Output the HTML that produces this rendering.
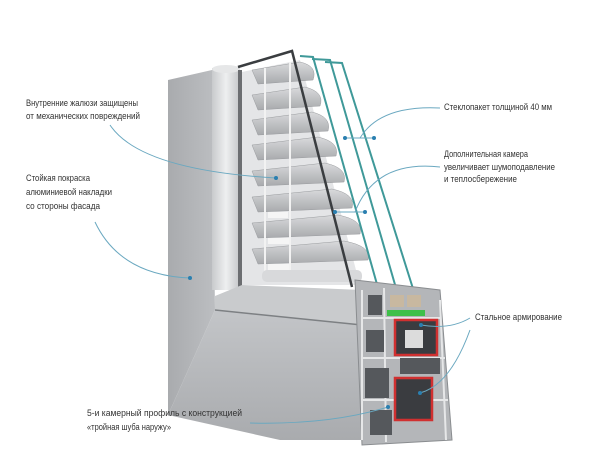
<!DOCTYPE html>
<html><head><meta charset="utf-8"><style>
html,body{margin:0;padding:0;background:#fff}
svg{display:block}
text{font-family:"Liberation Sans",sans-serif;font-size:9px;fill:#333}
</style></head><body>
<svg width="600" height="450" viewBox="0 0 600 450">
<defs>
<linearGradient id="pan" x1="0" x2="1"><stop offset="0" stop-color="#a9abae"/><stop offset="1" stop-color="#bcbec1"/></linearGradient>
<linearGradient id="bead" x1="0" x2="1"><stop offset="0" stop-color="#c8cacc"/><stop offset=".5" stop-color="#eeeff0"/><stop offset="1" stop-color="#c4c6c8"/></linearGradient>
<linearGradient id="low" x1="0" y1="0" x2="0" y2="1"><stop offset="0" stop-color="#c3c5c8"/><stop offset="1" stop-color="#a9abae"/></linearGradient>
<linearGradient id="slat" x1="0" y1="0" x2="0" y2="1"><stop offset="0" stop-color="#d9dadc"/><stop offset="1" stop-color="#a8aaad"/></linearGradient>
</defs>
<!-- left panel -->
<polygon points="168,80 212,70 215,310 168,415" fill="url(#pan)"/>
<!-- bead -->
<rect x="212" y="68" width="28" height="222" fill="url(#bead)"/>
<ellipse cx="226" cy="69" rx="14" ry="4" fill="#e6e7e8"/>
<rect x="238" y="70" width="4" height="220" fill="#6c6e71"/>
<!-- inner background -->
<polygon points="242,72 300,60 360,285 242,285" fill="#e4e5e7"/>
<!-- lower face -->
<polygon points="168,415 215,310 362,325 378,440 280,440" fill="url(#low)"/>
<polygon points="215,296 242,285 362,290 362,325 215,310" fill="#c9cbcd"/>
<line x1="215" y1="310" x2="362" y2="325" stroke="#7d8083" stroke-width="1.5"/>
<!-- slats -->
<g fill="url(#slat)" stroke="#9a9c9f" stroke-width=".5">
<path d="M252,70 L300,62 Q318,66 313,80 L258,84 Z"/>
<path d="M252,95 L305,87 Q325,92 320,106 L258,110 Z"/>
<path d="M252,120 L312,112 Q332,117 328,131 L258,135 Z"/>
<path d="M252,145 L318,137 Q340,142 336,156 L258,160 Z"/>
<path d="M252,171 L325,163 Q348,168 344,182 L258,186 Z"/>
<path d="M252,197 L332,189 Q356,194 352,208 L258,212 Z"/>
<path d="M252,223 L338,215 Q364,220 360,234 L258,238 Z"/>
<path d="M252,249 L344,241 Q372,246 368,260 L258,264 Z"/>
</g>
<g fill="#f5f5f5"><rect x="268" y="212" width="20" height="6"/><rect x="268" y="238" width="22" height="6"/><rect x="268" y="264" width="22" height="8"/></g>
<line x1="265" y1="68" x2="265" y2="275" stroke="#f2f2f2" stroke-width="2"/>
<line x1="290" y1="62" x2="290" y2="275" stroke="#f2f2f2" stroke-width="2"/>
<rect x="262" y="270" width="100" height="12" rx="5" fill="#d8d9db"/>
<!-- glass -->
<polyline points="238,67 292,51 352,287" fill="none" stroke="#3a3d40" stroke-width="2.5"/>
<polyline points="300,56 313,57 380,295" fill="none" stroke="#3f9999" stroke-width="2"/>
<polyline points="312,59 330,60 398,295" fill="none" stroke="#3f9999" stroke-width="2"/>
<polyline points="325,62 342,63 415,295" fill="none" stroke="#3f9999" stroke-width="2"/>
<!-- profile cross-section -->
<polygon points="355,280 440,290 452,440 362,445" fill="#b4b6b9" stroke="#8a8d90"/>
<g fill="none" stroke="#e6e7e8" stroke-width="2">
<path d="M362,290 L362,440 M384,288 L386,442 M440,300 L446,440 M362,318 L440,318 M362,358 L445,358 M362,400 L448,400"/>
</g>
<g fill="#55585c">
<rect x="368" y="295" width="14" height="20"/><rect x="366" y="330" width="18" height="22"/>
<rect x="365" y="368" width="24" height="30"/><rect x="370" y="410" width="22" height="25"/>
<rect x="400" y="358" width="40" height="16"/>
</g>
<rect x="390" y="295" width="14" height="12" fill="#c8b8a0"/><rect x="407" y="295" width="14" height="12" fill="#c8b8a0"/>
<rect x="387" y="310" width="38" height="6" fill="#3fc04a"/>
<rect x="395" y="320" width="42" height="35" fill="#3a3c40" stroke="#d03030" stroke-width="2.5"/>
<rect x="405" y="330" width="18" height="18" fill="#dcdcdc"/>
<rect x="395" y="378" width="37" height="42" fill="#3a3c40" stroke="#d03030" stroke-width="2.5"/>
<!-- connectors -->
<g fill="none" stroke="#6aa8c0" stroke-width="1">
<path d="M110,125 Q140,170 276,178"/>
<path d="M95,222 Q120,275 190,278"/>
<path d="M440,108 Q380,105 360,138 L374,138"/>
<path d="M345,138 L360,138"/>
<path d="M440,167 Q375,160 355,212 L365,212 M335,212 L355,212"/>
<path d="M470,318 Q450,330 421,325"/>
<path d="M470,330 Q450,385 420,393"/>
<path d="M250,423 Q330,425 388,407"/>
</g>
<g fill="#2a7fb0">
<circle cx="276" cy="178" r="2"/><circle cx="190" cy="278" r="2"/>
<circle cx="345" cy="138" r="2"/><circle cx="374" cy="138" r="2"/>
<circle cx="335" cy="212" r="2"/><circle cx="365" cy="212" r="2"/>
<circle cx="421" cy="325" r="2"/><circle cx="420" cy="393" r="2"/><circle cx="388" cy="407" r="2"/>
</g>
<!-- labels -->
<g>
<text x="26" y="106" textLength="112" lengthAdjust="spacingAndGlyphs">Внутренние жалюзи защищены</text>
<text x="26" y="119" textLength="114" lengthAdjust="spacingAndGlyphs">от механических повреждений</text>
<text x="26" y="181" textLength="64" lengthAdjust="spacingAndGlyphs">Стойкая покраска</text>
<text x="26" y="195" textLength="86" lengthAdjust="spacingAndGlyphs">алюминиевой накладки</text>
<text x="26" y="209" textLength="74" lengthAdjust="spacingAndGlyphs">со стороны фасада</text>
<text x="444" y="110" textLength="108" lengthAdjust="spacingAndGlyphs">Стеклопакет толщиной 40 мм</text>
<text x="444" y="157" textLength="84" lengthAdjust="spacingAndGlyphs">Дополнительная камера</text>
<text x="444" y="170" textLength="111" lengthAdjust="spacingAndGlyphs">увеличивает шумоподавление</text>
<text x="444" y="182" textLength="73" lengthAdjust="spacingAndGlyphs">и теплосбережение</text>
<text x="475" y="320" textLength="87" lengthAdjust="spacingAndGlyphs">Стальное армирование</text>
<text x="87" y="416" textLength="155" lengthAdjust="spacingAndGlyphs">5-и камерный профиль с конструкцией</text>
<text x="87" y="430" textLength="84" lengthAdjust="spacingAndGlyphs">«тройная шуба наружу»</text>
</g>
</svg>
</body></html>
